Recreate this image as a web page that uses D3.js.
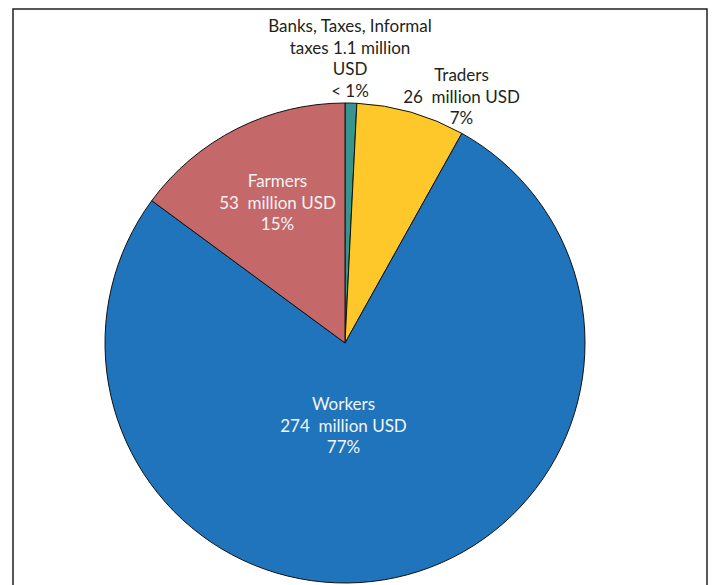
<!DOCTYPE html>
<html><head><meta charset="utf-8">
<script src="https://cdn.jsdelivr.net/npm/d3@7"></script>
<style>
html,body{margin:0;padding:0;background:#fff;}
text{font-family:Lato,"Open Sans",sans-serif;font-size:17px;white-space:pre;}
</style></head>
<body>
<svg id="c" width="715" height="585"></svg>
<script>
const categories = ["Banks, Taxes, Informal taxes", "Traders", "Workers", "Farmers"];
const sliceValues = [2.8, 26, 274, 53];
const colors = ["#36968f", "#fec82a", "#1f74bb", "#c5686a"];
const labelLines = [
  ["Banks, Taxes, Informal", "taxes 1.1 million", "USD", "< 1%"],
  ["Traders", "26  million USD", "7%"],
  ["Workers", "274  million USD", "77%"],
  ["Farmers", "53  million USD", "15%"]
];
const labelPos = [[350, 32], [461.5, 81], [343.5, 410], [277.5, 187]];
const labelColor = ["#231f20", "#231f20", "#f4f4f4", "#f4f4f4"];

const svg = d3.select("#c");
svg.append("rect").attr("x", 13).attr("y", 9).attr("width", 694).attr("height", 600)
  .attr("fill", "#fff").attr("stroke", "#231f20").attr("stroke-width", 1.5);

const cx = 345, cy = 343, r = 240;
const pie = d3.pie().sort(null).value(d => d)(sliceValues);
const arc = d3.arc().innerRadius(0).outerRadius(r);
const g = svg.append("g").attr("transform", `translate(${cx},${cy})`);
g.selectAll("path").data(pie).join("path")
  .attr("d", arc).attr("fill", (d, i) => colors[i])
  .attr("stroke", "#111").attr("stroke-width", 1);

labelLines.forEach((lines, i) => {
  const t = svg.append("text").attr("text-anchor", "middle").attr("fill", labelColor[i]);
  lines.forEach((s, j) => {
    t.append("tspan").attr("x", labelPos[i][0]).attr("y", labelPos[i][1] + j * 21.5).text(s);
  });
});
</script>
</body></html>
